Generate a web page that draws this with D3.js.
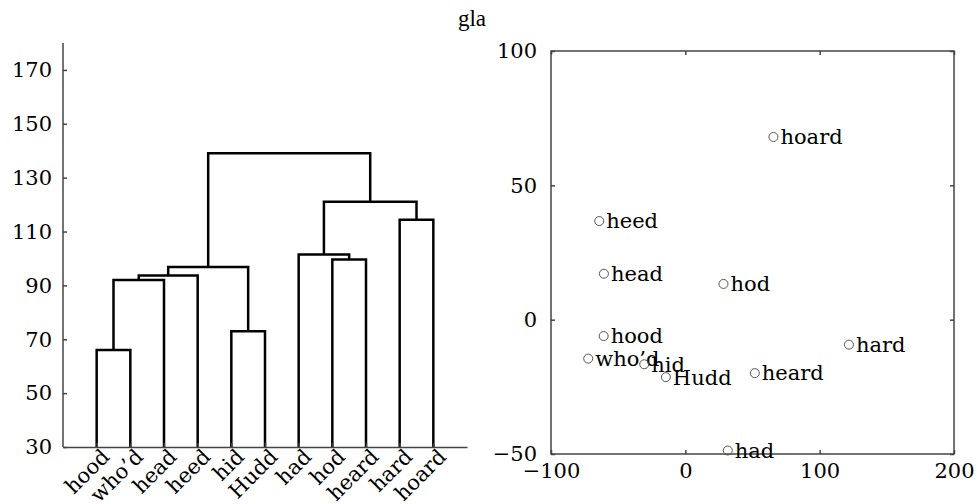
<!DOCTYPE html>
<html>
<head>
<meta charset="utf-8">
<script src="https://cdn.jsdelivr.net/npm/d3@7"></script>
<style>
  body { margin: 0; background: #fff; }
  svg text { font-family: "DejaVu Serif", serif; font-size: 21px; fill: #000; }
  .axis path, .axis line { stroke: #444; stroke-width: 1.5; }
  .dendro path { fill: none; stroke: #000; stroke-width: 2.5; }
</style>
</head>
<body>
<svg id="chart" width="977" height="504"></svg>
<script>
// leaves in display order
var leaves = ["hood", "who\u2019d", "head", "heed", "hid", "Hudd", "had", "hod", "heard", "hard", "hoard"];

// linkage: [child a, child b, height]; ids >= leaves.length are earlier merges
var merges = [
    [0, 1, 66],
    [11, 2, 92],
    [12, 3, 93.7],
    [4, 5, 73],
    [13, 14, 96.8],
    [7, 8, 99.6],
    [6, 16, 101.5],
    [9, 10, 114.4],
    [17, 18, 121.1],
    [15, 19, 139.1]
];

var dendroTicks = [30, 50, 70, 90, 110, 130, 150, 170];

// scatter (MDS) points
var words = ["hoard", "heed", "head", "hod", "hood", "who\u2019d", "hid", "Hudd", "heard", "hard", "had"];
var xs = [65.6, -64.1, -60.6, 28.4, -60.8, -72.3, -30.6, -14.5, 51.7, 121.8, 31.6];
var ys = [68.0, 36.7, 17.1, 13.3, -6.1, -14.5, -16.6, -21.4, -19.9, -9.3, -48.7];

var scatterXTicks = [-100, 0, 100, 200];
var scatterYTicks = [-50, 0, 50, 100];

var svg = d3.select("#chart");

// title
svg.append("text")
    .attr("x", 472)
    .attr("y", 26)
    .attr("text-anchor", "middle")
    .style("font-family", "'Liberation Serif', serif")
    .style("font-size", "23px")
    .text("gla");

// ---- dendrogram ----
var left = {x0: 63, x1: 467, y0: 43, y1: 447};

var dx = d3.scaleLinear().domain([0, leaves.length + 1]).range([left.x0, left.x1]);
var dy = d3.scaleLinear().domain([30, 180]).range([left.y1, left.y0]);

var g1 = svg.append("g");

// node positions: leaves at 1..n, clusters at mean of children
var nodeX = leaves.map(function (d, i) { return i + 1; });
var nodeH = leaves.map(function () { return 30; });
merges.forEach(function (m) {
    nodeX.push((nodeX[m[0]] + nodeX[m[1]]) / 2);
    nodeH.push(m[2]);
});

g1.append("g").attr("class", "dendro")
    .selectAll("path")
    .data(merges)
    .enter().append("path")
    .attr("d", function (m) {
        var xa = dx(nodeX[m[0]]), xb = dx(nodeX[m[1]]);
        var ha = dy(nodeH[m[0]]), hb = dy(nodeH[m[1]]), h = dy(m[2]);
        return "M" + xa + "," + ha + "V" + h + "H" + xb + "V" + hb;
    });

g1.append("g").attr("class", "axis")
    .attr("transform", "translate(" + left.x0 + ",0)")
    .call(d3.axisLeft(dy).tickValues(dendroTicks).tickSizeInner(-4).tickSizeOuter(0).tickPadding(11))
    .call(function (g) { g.select(".domain").attr("d", "M0," + left.y0 + "V" + left.y1); })
    .selectAll("text").style("font-size", "21px").style("font-family", "'DejaVu Serif', serif");

var xAxisL = g1.append("g").attr("class", "axis")
    .attr("transform", "translate(0," + left.y1 + ")")
    .call(d3.axisBottom(dx).tickValues(d3.range(1, leaves.length + 1)).tickSizeInner(-4).tickSizeOuter(0).tickFormat(""));
xAxisL.selectAll("text").remove();

g1.append("g")
    .selectAll("text")
    .data(leaves)
    .enter().append("text")
    .attr("transform", function (d, i) {
        return "translate(" + (dx(i + 1) + 4) + "," + (left.y1 + 1) + ") rotate(-45)";
    })
    .attr("text-anchor", "end")
    .attr("dy", "0.68em")
    .text(function (d) { return d; });

// ---- scatter ----
var right = {x0: 551, x1: 954, y0: 51, y1: 454};

var sx = d3.scaleLinear().domain([-100, 200]).range([right.x0, right.x1]);
var sy = d3.scaleLinear().domain([-50, 100]).range([right.y1, right.y0]);

var g2 = svg.append("g");

g2.append("rect")
    .attr("x", right.x0).attr("y", right.y0)
    .attr("width", right.x1 - right.x0).attr("height", right.y1 - right.y0)
    .attr("fill", "none").attr("stroke", "#444").attr("stroke-width", 1.5);

function fmt(d) { return d < 0 ? "\u2212" + Math.abs(d) : String(d); }

g2.append("g").attr("class", "axis")
    .attr("transform", "translate(0," + right.y1 + ")")
    .call(d3.axisBottom(sx).tickValues(scatterXTicks).tickSizeInner(-4).tickSizeOuter(0).tickPadding(9).tickFormat(fmt))
    .select(".domain").remove();

g2.append("g").attr("class", "axis")
    .attr("transform", "translate(0," + right.y0 + ")")
    .call(d3.axisTop(sx).tickValues(scatterXTicks).tickSizeInner(-4).tickSizeOuter(0).tickFormat(""))
    .call(function (g) { g.select(".domain").remove(); g.selectAll("text").remove(); });

g2.append("g").attr("class", "axis")
    .attr("transform", "translate(" + right.x0 + ",0)")
    .call(d3.axisLeft(sy).tickValues(scatterYTicks).tickSizeInner(-4).tickSizeOuter(0).tickPadding(14).tickFormat(fmt))
    .select(".domain").remove();

g2.append("g").attr("class", "axis")
    .attr("transform", "translate(" + right.x1 + ",0)")
    .call(d3.axisRight(sy).tickValues(scatterYTicks).tickSizeInner(-4).tickSizeOuter(0).tickFormat(""))
    .call(function (g) { g.select(".domain").remove(); g.selectAll("text").remove(); });

g2.selectAll("text").style("font-size", "21px").style("font-family", "'DejaVu Serif', serif");

var pts = g2.append("g")
    .selectAll("g")
    .data(words)
    .enter().append("g")
    .attr("transform", function (d, i) { return "translate(" + sx(xs[i]) + "," + sy(ys[i]) + ")"; });

pts.append("circle")
    .attr("r", 4.5)
    .attr("fill", "none")
    .attr("stroke", "#555")
    .attr("stroke-width", 1);

pts.append("text")
    .attr("x", 7)
    .attr("dy", "0.35em")
    .text(function (d) { return d; });
</script>
</body>
</html>
